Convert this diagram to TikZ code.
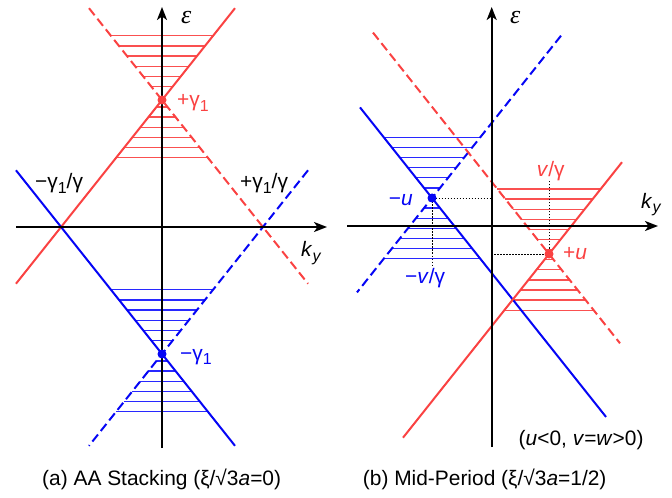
\documentclass[tikz,border=0pt]{standalone}
\usepackage{fontspec}
\setmainfont{Liberation Sans}
\newfontfamily\serfont{Liberation Serif}
\usetikzlibrary{arrows.meta}
\definecolor{myred}{RGB}{250,66,66}
\definecolor{myblue}{RGB}{5,5,245}
\definecolor{hred}{RGB}{250,80,80}
\definecolor{hblue}{RGB}{40,40,255}
\newcommand\lowsub[1]{\raisebox{-4.5bp}{\fontsize{16}{16}\selectfont #1}}
\newcommand\hatchcone[5]{% cx, cy, first offset, step, colour
  \foreach \k in {0,...,12}{%
    \pgfmathsetmacro\oo{#3+#4*\k}%
    \pgfmathsetmacro\hh{abs(\oo)/1.258}%
    \pgfmathsetmacro\yy{#2+\oo}%
    \pgfmathsetmacro\xa{#1-\hh}%
    \pgfmathsetmacro\xb{#1+\hh}%
    \draw[hatchline,#5] (\xa,\yy) -- (\xb,\yy);
  }}
\begin{document}
\begin{tikzpicture}[x=1bp,y=-1bp,
  font=\fontsize{21}{24}\selectfont,
  every node/.style={inner sep=0pt},
  axisline/.style={line width=2bp,-{Stealth[length=13bp,width=10bp,inset=3.5bp]}},
  bandline/.style={line width=2bp},
  bandldash/.style={line width=2bp,dash pattern=on 9bp off 4.5bp},
  hatchline/.style={line width=1.3bp},
  dotline/.style={line width=1.2bp,dash pattern=on 1.5bp off 1.5bp},
  ptdot/.style={circle,minimum size=9bp,inner sep=0pt}]
\useasboundingbox (0,0) rectangle (672,498);

% ---------- panel (a) ----------
\coordinate (Pp) at (162,100);
\coordinate (Pm) at (162,354);
\hatchcone{162}{100}{-64.3}{10.17}{hred}
\hatchcone{162}{354}{-64.3}{10.17}{hblue}
\coordinate (rsA) at (16,283.7);  \coordinate (rsB) at (235,8.2);
\coordinate (rdA) at (89,8.2);    \coordinate (rdB) at (308,283.7);
\coordinate (bsA) at (16,170.3);  \coordinate (bsB) at (235,445.8);
\coordinate (bdA) at (308,170.3); \coordinate (bdB) at (89,445.8);
\draw[bandline,myred] (rsA) -- (rsB);
\draw[bandldash,myred] (rdA) -- (rdB);
\draw[bandline,myblue] (bsA) -- (bsB);
\draw[bandldash,myblue] (bdA) -- (bdB);
\coordinate (ayA) at (162,448); \coordinate (ayB) at (162,7);
\coordinate (axA) at (16,227);  \coordinate (axB) at (327,227);
\draw[axisline] (ayA) -- (ayB);
\draw[axisline] (axA) -- (axB);
\node[ptdot,fill=myred] (dotPp) at (Pp) {};
\node[ptdot,fill=myblue] (dotPm) at (Pm) {};
\node[anchor=base west] (epsA) at (181,24) {\fontsize{26}{28}\serfont\itshape ε};
\node[anchor=base west] (kyA) at (301,257) {\textit{k}\lowsub{\textit{y}}};
\node[anchor=base west,text=myred] (gpA) at (177,107) {+γ\lowsub{1}};
\node[anchor=base west] (gmgA) at (35,189) {−γ\lowsub{1}/γ};
\node[anchor=base west] (gpgA) at (240,189) {+γ\lowsub{1}/γ};
\node[anchor=base west,text=myblue] (gmA) at (180,360) {−γ\lowsub{1}};
\node[anchor=base west] (capA) at (42,485) {(a) AA Stacking (ξ/√3\textit{a}=0)};

% ---------- panel (b) ----------
\coordinate (Qm) at (432,198);
\coordinate (Qp) at (549,254);
\hatchcone{432}{198}{-60.6}{10.1}{hblue}
\hatchcone{549}{254}{-65}{10.1}{hred}
\coordinate (BsA) at (360,107.4); \coordinate (BsB) at (606,416.9);
\coordinate (BdA) at (561,35.7);  \coordinate (BdB) at (357,292.4);
\coordinate (RsA) at (622,162.2); \coordinate (RsB) at (403,437.7);
\coordinate (RdA) at (373,32.6);  \coordinate (RdB) at (620,343.3);
\draw[bandline,myblue] (BsA) -- (BsB);
\draw[bandldash,myblue] (BdA) -- (BdB);
\draw[bandline,myred] (RsA) -- (RsB);
\draw[bandldash,myred] (RdA) -- (RdB);
\coordinate (byA) at (491.7,447); \coordinate (byB) at (491.7,7);
\coordinate (bxA) at (347,226);   \coordinate (bxB) at (658,226);
\draw[axisline] (byA) -- (byB);
\draw[axisline] (bxA) -- (bxB);
\coordinate (QmC) at (432.5,198.5); \coordinate (QpC) at (549.5,254.5);
\coordinate (QmH) at (491.7,198.5); \coordinate (QmV) at (432.5,267);
\coordinate (QpH) at (491.7,254.5); \coordinate (QpV) at (549.5,180);
\draw[dotline] (QmC) -- (QmH);
\draw[dotline] (QmC) -- (QmV);
\draw[dotline] (QpC) -- (QpH);
\draw[dotline] (QpC) -- (QpV);
\node[ptdot,fill=myblue] (dotQm) at (Qm) {};
\node[ptdot,fill=myred] (dotQp) at (Qp) {};
\node[anchor=base west] (epsB) at (510,23.5) {\fontsize{26}{28}\serfont\itshape ε};
\node[anchor=base west] (kyB) at (641,208.5) {\textit{k}\lowsub{\textit{y}}};
\node[anchor=base east,text=myblue] (muB) at (413,205.5) {−\textit{u}};
\node[anchor=base west,text=myblue] (mvB) at (405,283.5) {−\textit{v}/γ};
\node[anchor=base west,text=myred] (vB) at (536.7,176.5) {\textit{v}/γ};
\node[anchor=base west,text=myred] (puB) at (563,260) {+\textit{u}};
\node[anchor=base west] (condB) at (518.5,445) {(\textit{u}<0, \textit{v}=\textit{w}>0)};
\node[anchor=base west] (capB) at (362.7,485) {(b) Mid-Period (ξ/√3\textit{a}=1/2)};
\end{tikzpicture}
\end{document}
